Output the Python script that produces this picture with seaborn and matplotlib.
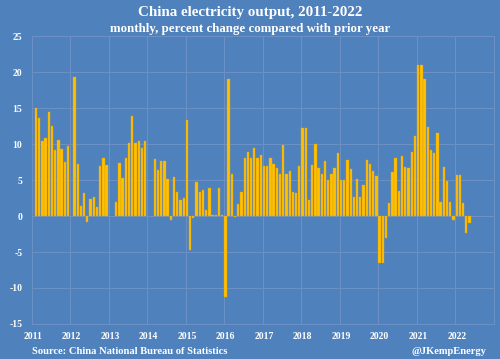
import numpy as np
import pandas as pd
import matplotlib
matplotlib.use("Agg")
import matplotlib.pyplot as plt
import seaborn as sns

nan = np.nan
years = [2011, 2012, 2013, 2014, 2015, 2016, 2017, 2018, 2019, 2020, 2021, 2022]
y2011 = [nan, 15.0, 13.6, 10.4, 10.8, 14.4, 12.5, 9.1, 10.6, 9.3, 7.5, 9.7]
y2012 = [nan, 19.3, 7.2, 1.4, 3.2, -0.8, 2.3, 2.6, 1.2, 7.0, 8.0, 7.1]
y2013 = [nan, nan, 2.0, 7.3, 5.3, 8.1, 10.1, 13.9, 10.2, 10.4, 9.4, 10.4]
y2014 = [nan, nan, 7.9, 6.4, 7.6, 7.7, 5.2, -0.55, 5.4, 3.3, 2.2, 2.5]
y2015 = [13.3, -4.7, -0.3, 4.7, 3.3, 3.6, 0.8, 3.9, 0.2, 0.15, 3.9, 0.1]
y2016 = [-11.3, 19.0, 5.9, -0.2, 1.6, 3.4, 8.1, 8.9, 8.1, 9.4, 8.0, 8.5]
y2017 = [7.0, 7.0, 8.1, 7.2, 6.7, 5.9, 9.8, 5.8, 6.25, 3.3, 3.2, 6.9]
y2018 = [12.2, 12.2, 2.2, 7.1, 10.0, 6.7, 5.8, 7.6, 5.0, 5.8, 6.6, 8.7]
y2019 = [5.0, 5.0, 7.8, 6.5, 2.6, 5.1, 2.6, 4.3, 7.8, 7.2, 6.25, 5.6]
y2020 = [-6.5, -6.5, -3.0, 1.8, 6.1, 8.0, 3.5, 8.3, 6.85, 6.6, 8.9, 11.1]
y2021 = [21.0, 21.0, 19.0, 12.3, 9.2, 8.8, 11.5, 1.9, 6.85, 4.9, 1.9, -0.55]
y2022 = [5.7, 5.7, 1.8, -2.3, -1.0, nan, nan, nan, nan, nan, nan, nan]
series = [y2011, y2012, y2013, y2014, y2015, y2016, y2017, y2018, y2019, y2020, y2021, y2022]

title = "China electricity output, 2011-2022"
subtitle = "monthly, percent change compared with prior year"
source = "Source: China National Bureau of Statistics"
credit = "@JKempEnergy"

rows = []
for k, (yr, vals) in enumerate(zip(years, series)):
    for m, v in enumerate(vals):
        rows.append({"pos": k * 12 + m + 0.38, "value": v})
df = pd.DataFrame(rows).dropna()

BG = "#4F81BD"
GRID = "#6B91C6"
BAR = "#FFC000"
serif = ["Liberation Serif", "DejaVu Serif"]

fig = plt.figure(figsize=(5.0, 3.59), dpi=100, facecolor=BG)
ax = fig.add_axes([0.063, 0.0975, 0.925, 0.8022])
ax.set_facecolor(BG)

sns.barplot(data=df, x="pos", y="value", native_scale=True, color=BAR,
            saturation=1, width=0.72, errorbar=None, edgecolor="#D9A31A",
            linewidth=0.3, ax=ax, zorder=3)

ax.set_xlim(0, 144)
ax.set_ylim(-15, 25)
ax.set_xticks([12 * k for k in range(13)], minor=True)
ax.set_xticks([12 * k + 0.4 for k in range(len(years))])
ax.set_xticklabels([str(y) for y in years])
ax.set_yticks(range(-15, 26, 5))
ax.set_yticklabels([str(v) for v in range(-15, 26, 5)])
ax.grid(False)
ax.grid(True, axis="y", which="major", color=GRID, linewidth=0.7, zorder=0)
ax.grid(True, axis="x", which="minor", color=GRID, linewidth=0.7, zorder=0)
ax.tick_params(which="both", length=0)
ax.tick_params(axis="y", pad=6.5)
ax.tick_params(axis="x", pad=6)
for lab in ax.get_xticklabels() + ax.get_yticklabels():
    lab.set_fontfamily(serif)
    lab.set_fontweight("bold")
    lab.set_fontsize(7)
    lab.set_color("white")
for sp in ax.spines.values():
    sp.set_color(GRID)
    sp.set_linewidth(0.7)
ax.set_xlabel("")
ax.set_ylabel("")

fig.text(0.5, 0.964, title, ha="center", va="center", color="white",
         fontsize=10.8, fontweight="bold", family=serif)
fig.text(0.5, 0.92, subtitle, ha="center", va="center", color="white",
         fontsize=9.3, fontweight="bold", family=serif)
fig.text(0.064, 0.02, source, ha="left", va="center", color="white",
         fontsize=7.6, fontweight="bold", family=serif)
fig.text(0.972, 0.02, credit, ha="right", va="center", color="white",
         fontsize=7.6, fontweight="bold", family=serif)

fig.savefig("out.png", dpi=100, facecolor=BG)
